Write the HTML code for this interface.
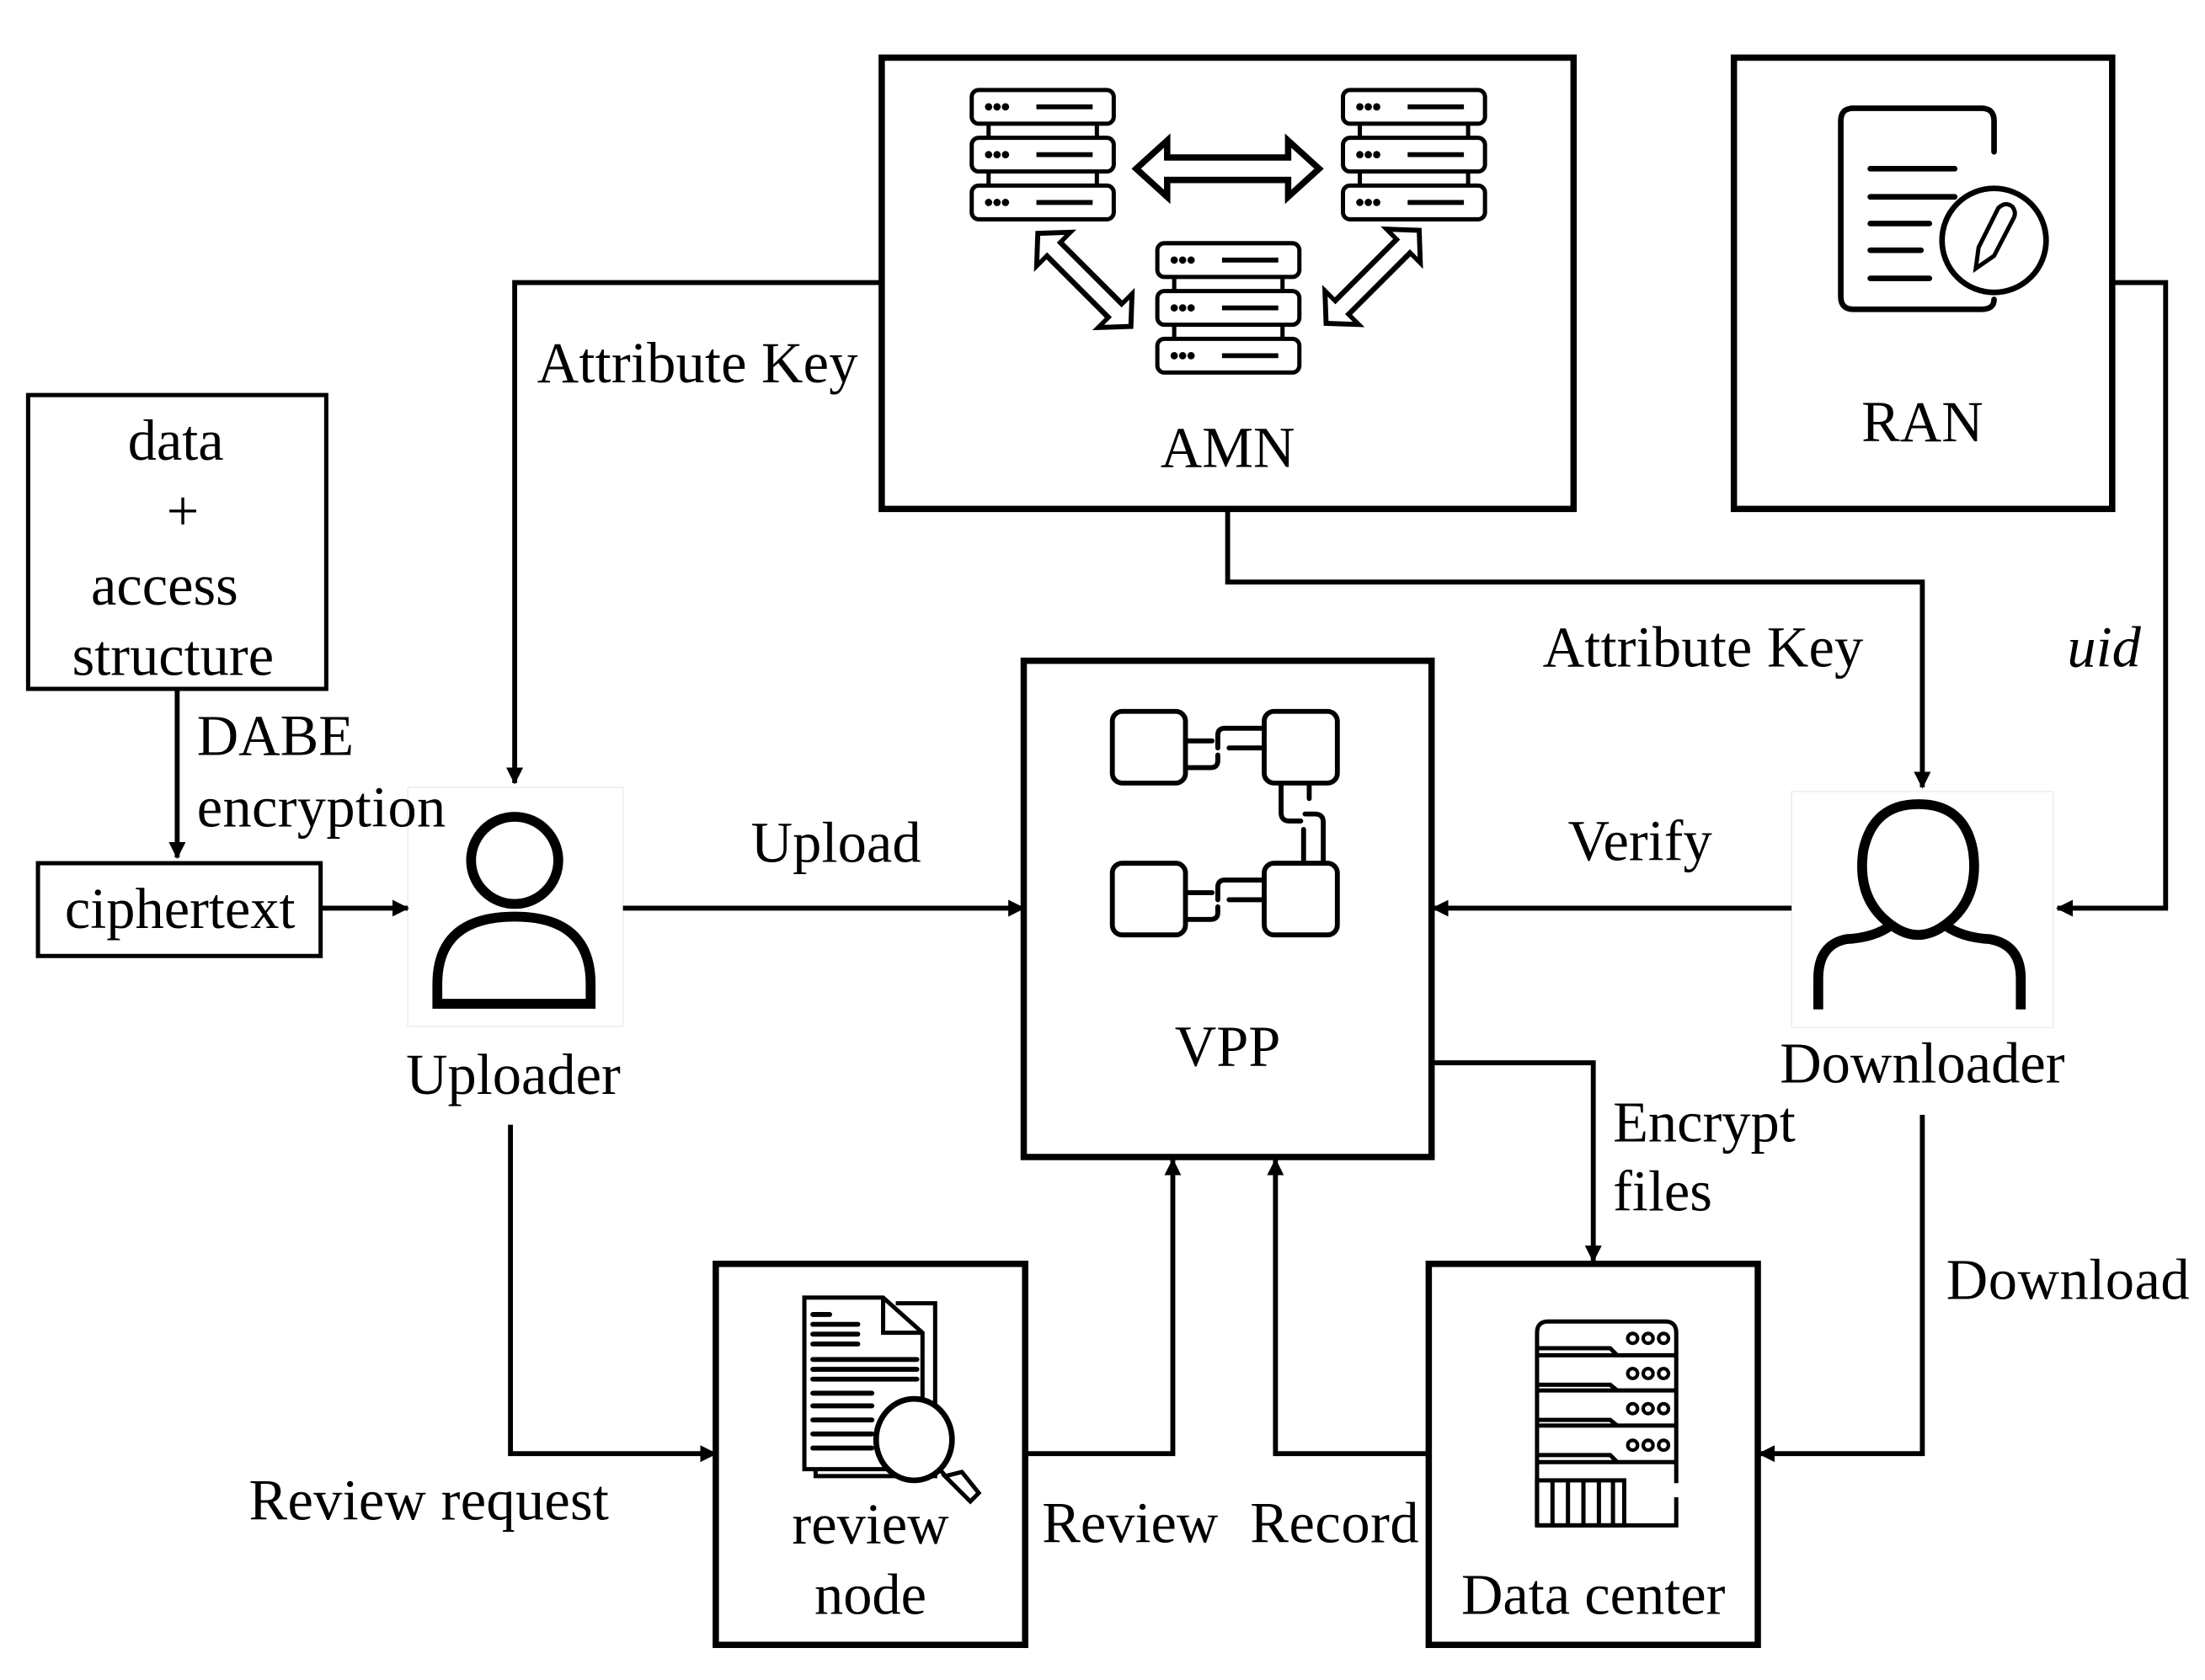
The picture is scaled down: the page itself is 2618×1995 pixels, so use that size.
<!DOCTYPE html>
<html><head><meta charset="utf-8"><style>
html,body{margin:0;padding:0;background:#fff;}
svg{display:block;}
text{font-family:"Liberation Serif",serif;font-size:41px;fill:#000;}
</style></head><body>
<svg width="2618" height="1995" viewBox="0 0 1568 1195" preserveAspectRatio="none" xmlns="http://www.w3.org/2000/svg">
<defs>
<marker id="ah" markerWidth="12" markerHeight="12" refX="11" refY="6" orient="auto" markerUnits="userSpaceOnUse">
<path d="M0,0 L12,6 L0,12 Z" fill="#000"/></marker>
<g id="unit"><rect x="0" y="0" width="101" height="24" rx="5" fill="#fff" stroke="#000" stroke-width="3"/>
<circle cx="12" cy="12" r="2.6"/><circle cx="18" cy="12" r="2.6"/><circle cx="24" cy="12" r="2.6"/>
<line x1="46" y1="12" x2="86" y2="12" stroke="#000" stroke-width="3.5"/></g>
<g id="stack"><line x1="12" y1="24" x2="12" y2="68" stroke="#000" stroke-width="3"/><line x1="89" y1="24" x2="89" y2="68" stroke="#000" stroke-width="3"/>
<use href="#unit" y="0"/><use href="#unit" y="34"/><use href="#unit" y="68"/></g>
<path id="dbl" d="M0,0 L22,-20 L22,-8 L108,-8 L108,-20 L130,0 L108,20 L108,8 L22,8 L22,20 Z" fill="#fff" stroke="#000" stroke-width="4.5"/>
</defs>

<g fill="none" stroke="#000">
<rect x="627" y="41" width="492" height="321" stroke-width="4.5"/>
<rect x="1233" y="41" width="269" height="321" stroke-width="4.5"/>
<rect x="20" y="281" width="212" height="209" stroke-width="3"/>
<rect x="27" y="614" width="201" height="66" stroke-width="3"/>
<rect x="728" y="470" width="290" height="353" stroke-width="4.5"/>
<rect x="509" y="899" width="220" height="271" stroke-width="4.5"/>
<rect x="1016" y="899" width="234" height="271" stroke-width="4.5"/>
<rect x="290" y="560" width="153" height="170" stroke="#eee" stroke-width="1"/>
<rect x="1274" y="563" width="186" height="168" stroke="#eee" stroke-width="1"/>
</g>

<g fill="none" stroke="#000" stroke-width="3.5">
<polyline points="627,201 366,201 366,557" marker-end="url(#ah)"/>
<polyline points="873,362 873,414 1367,414 1367,560" marker-end="url(#ah)"/>
<polyline points="1502,201 1540,201 1540,646 1463,646" marker-end="url(#ah)"/>
<polyline points="126,490 126,610" marker-end="url(#ah)"/>
<polyline points="228,646 290,646" marker-end="url(#ah)"/>
<polyline points="443,646 728,646" marker-end="url(#ah)"/>
<polyline points="1274,646 1019,646" marker-end="url(#ah)"/>
<polyline points="1018,756 1133,756 1133,897" marker-end="url(#ah)"/>
<polyline points="363,800 363,1034 509,1034" marker-end="url(#ah)"/>
<polyline points="729,1034 834,1034 834,825" marker-end="url(#ah)"/>
<polyline points="1016,1034 907,1034 907,825" marker-end="url(#ah)"/>
<polyline points="1367,793 1367,1034 1251,1034" marker-end="url(#ah)"/>
</g>

<use href="#stack" x="691" y="64"/>
<use href="#stack" x="955" y="64"/>
<use href="#stack" x="823" y="173"/>
<use href="#dbl" transform="translate(808,120)"/>
<use href="#dbl" transform="translate(738,166) rotate(45) scale(0.72,0.85)"/>
<use href="#dbl" transform="translate(943,230) rotate(-45) scale(0.72,0.85)"/>

<g fill="none" stroke="#000" stroke-width="4" stroke-linecap="round">
<path d="M1418,108 L1418,86 Q1418,77 1409,77 L1318,77 Q1309,77 1309,86 L1309,211 Q1309,220 1318,220 L1409,220 Q1418,220 1418,213"/>
<line x1="1330" y1="120" x2="1390" y2="120"/><line x1="1330" y1="140" x2="1390" y2="140"/>
<line x1="1330" y1="159" x2="1372" y2="159"/><line x1="1330" y1="178" x2="1366" y2="178"/><line x1="1330" y1="198" x2="1372" y2="198"/>
<circle cx="1418" cy="171" r="37" fill="#fff"/>
<path d="M1405,191 L1407,176 L1421,148 Q1426,143 1431,147 Q1434,151 1432,155 L1418,182 Z" stroke-width="3"/>
</g>

<g fill="none" stroke="#000" stroke-width="3.5" stroke-linecap="round">
<rect x="791" y="506" width="52" height="51" rx="7"/><rect x="899" y="506" width="52" height="51" rx="7"/>
<rect x="791" y="614" width="52" height="51" rx="7"/><rect x="899" y="614" width="52" height="51" rx="7"/>
<path d="M843,527 L862,527 M866,532 L866,523 Q866,518 871,518 L899,518 M843,546 L861,546 Q866,546 866,541 L866,537 M874,532 L899,532"/>
<path d="M843,635 L862,635 M866,640 L866,631 Q866,626 871,626 L899,626 M843,654 L861,654 Q866,654 866,649 L866,645 M874,640 L899,640"/>
<path d="M911,557 L911,578 Q911,584 917,584 L925,584 M931,557 L931,568 M928,579 L935,579 Q941,579 941,585 L941,614 M927,590 L927,614"/>
</g>

<g fill="none" stroke="#000" stroke-width="7">
<circle cx="366" cy="612" r="31"/>
<path d="M311,714 L311,700 Q311,652 366,652 Q420,652 420,700 L420,714 Z"/>
</g>
<g fill="none" stroke="#000" stroke-width="7">
<path d="M1345,658 Q1320,640 1325,605 Q1332,572 1364,572 Q1397,572 1403,605 Q1408,640 1383,658 Q1395,667 1415,668 Q1437,672 1437,696 L1437,718 M1345,658 Q1333,667 1313,668 Q1293,672 1293,696 L1293,718 M1345,658 Q1364,672 1383,658"/>
</g>

<g stroke="#000" fill="none">
<path d="M637,927 L665,927 L665,1050 L580,1050 L580,1040" stroke-width="3"/>
<path d="M572,923 L628,923 L656,948 L656,1045 L572,1045 Z" fill="#fff" stroke-width="3"/>
<path d="M628,923 L628,948 L656,948" stroke-width="3"/>
<g stroke-width="3.5" stroke-linecap="round">
<line x1="578" y1="935" x2="590" y2="935"/><line x1="578" y1="942" x2="610" y2="942"/><line x1="578" y1="949" x2="610" y2="949"/><line x1="578" y1="956" x2="610" y2="956"/>
<line x1="578" y1="967" x2="652" y2="967"/><line x1="578" y1="974" x2="652" y2="974"/><line x1="578" y1="981" x2="652" y2="981"/>
<line x1="578" y1="991" x2="620" y2="991"/><line x1="578" y1="1000" x2="620" y2="1000"/><line x1="578" y1="1010" x2="620" y2="1010"/><line x1="578" y1="1020" x2="620" y2="1020"/><line x1="578" y1="1030" x2="620" y2="1030"/>
</g>
<ellipse cx="650" cy="1024" rx="27" ry="29" fill="#fff" stroke-width="4"/>
<path d="M669,1046 L675,1053 M672,1050 L684,1047 L696,1062 L690,1068 Z" stroke-width="3" fill="#fff"/>
</g>

<g stroke="#000" fill="none" stroke-width="3">
<path d="M1093,1085 L1093,948 Q1093,940 1101,940 L1184,940 Q1192,940 1192,948 L1192,1055 M1192,1065 L1192,1085 L1093,1085"/>
<line x1="1093" y1="964" x2="1192" y2="964"/><line x1="1093" y1="989" x2="1192" y2="989"/><line x1="1093" y1="1014" x2="1192" y2="1014"/><line x1="1093" y1="1040" x2="1192" y2="1040"/>
<g stroke-width="2.5"><circle cx="1161" cy="952" r="3.5"/><circle cx="1172" cy="952" r="3.5"/><circle cx="1183" cy="952" r="3.5"/>
<circle cx="1161" cy="977" r="3.5"/><circle cx="1172" cy="977" r="3.5"/><circle cx="1183" cy="977" r="3.5"/>
<circle cx="1161" cy="1002" r="3.5"/><circle cx="1172" cy="1002" r="3.5"/><circle cx="1183" cy="1002" r="3.5"/>
<circle cx="1161" cy="1028" r="3.5"/><circle cx="1172" cy="1028" r="3.5"/><circle cx="1183" cy="1028" r="3.5"/></g>
<path d="M1093,959 L1145,959 L1150,964 M1093,985 L1145,985 L1150,989 M1093,1010 L1145,1010 L1150,1014 M1093,1035 L1145,1035 L1150,1040"/>
<rect x="1093" y="1053" width="62" height="32"/>
<path d="M1104,1053 L1104,1085 M1115,1053 L1115,1085 M1126,1053 L1126,1085 M1137,1053 L1137,1085 M1147,1053 L1147,1085"/>
</g>

<text x="382" y="272" textLength="228">Attribute Key</text>
<text x="873" y="332" text-anchor="middle">AMN</text>
<text x="1367" y="314" text-anchor="middle">RAN</text>
<text x="125" y="327" text-anchor="middle">data</text>
<text x="130" y="377" text-anchor="middle">+</text>
<text x="117" y="430" text-anchor="middle">access</text>
<text x="123" y="480" text-anchor="middle">structure</text>
<text x="140" y="537">DABE</text>
<text x="140" y="588" textLength="177">encryption</text>
<text x="128" y="660" text-anchor="middle">ciphertext</text>
<text x="534" y="613" textLength="121">Upload</text>
<text x="365" y="778" text-anchor="middle">Uploader</text>
<text x="873" y="758" text-anchor="middle">VPP</text>
<text x="1097" y="474" textLength="228">Attribute Key</text>
<text x="1470" y="474" font-style="italic">uid</text>
<text x="1115" y="612">Verify</text>
<text x="1367" y="770" text-anchor="middle">Downloader</text>
<text x="1147" y="812">Encrypt</text>
<text x="1147" y="861">files</text>
<text x="1384" y="924" textLength="173">Download</text>
<text x="177" y="1081" textLength="256">Review request</text>
<text x="619" y="1098" text-anchor="middle">review</text>
<text x="619" y="1148" text-anchor="middle">node</text>
<text x="741" y="1097">Review</text>
<text x="889" y="1097" textLength="120">Record</text>
<text x="1133" y="1148" text-anchor="middle">Data center</text>
</svg>
</body></html>
